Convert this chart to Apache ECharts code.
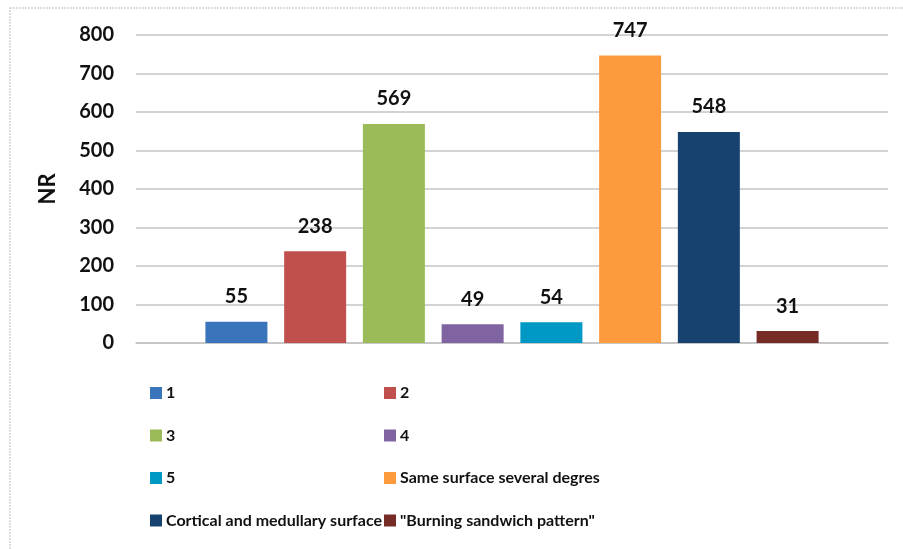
<!DOCTYPE html>
<html>
<head>
<meta charset="utf-8">
<script src="https://cdn.jsdelivr.net/npm/echarts@6/dist/echarts.min.js"></script>
<style>
  html, body { margin: 0; padding: 0; background: #fff; }
  #chart { width: 903px; height: 549px; }
</style>
</head>
<body>
<div id="chart"></div>
<script>
// Pattern types and their counts
const seriesNames = ['1', '2', '3', '4', '5', 'Same surface several degres', 'Cortical and medullary surface', '"Burning sandwich pattern"'];
const seriesValues = [55, 238, 569, 49, 54, 747, 548, 31];
const seriesColors = ['#3a75bb', '#c0504d', '#9bbb59', '#8064a2', '#0099c6', '#fd9a3e', '#17426f', '#772b26'];
const categories = ['NR'];
const yTicks = { min: 0, max: 800, interval: 100 };

const FONT = 'Lato, sans-serif';

const series = seriesNames.map((name, i) => ({
  name: name,
  type: 'bar',
  data: [seriesValues[i]],
  barWidth: 62,
  barGap: '27%',
  itemStyle: { color: seriesColors[i] },
  label: {
    show: true,
    position: 'top',
    distance: 15,
    color: '#111',
    fontFamily: FONT,
    fontWeight: 'bold',
    fontSize: 20
  }
}));

const legendCommon = {
  orient: 'vertical',
  icon: 'rect',
  itemWidth: 12,
  itemHeight: 12,
  itemGap: 22.5,
  padding: 0,
  textStyle: { color: '#111', fontFamily: FONT, fontWeight: 'bold', fontSize: 16, lineHeight: 20, padding: [0, 0, 0, -1] }
};

const chart = echarts.init(document.getElementById('chart'), null, { renderer: 'canvas' });
chart.setOption({
  animation: false,
  backgroundColor: '#fff',
  graphic: [{
    type: 'rect',
    shape: { x: 10, y: 8, width: 1000, height: 1000 },
    style: { fill: 'none', stroke: '#d4d4d4', lineWidth: 1.5, lineDash: [2, 1] },
    silent: true
  }],
  grid: { left: 136, right: 15, top: 35, height: 308, containLabel: false },
  xAxis: {
    type: 'category',
    data: categories,
    axisLine: { show: true, lineStyle: { color: '#c4c4c4', width: 1.5 } },
    axisTick: { show: false },
    axisLabel: { show: false }
  },
  yAxis: {
    type: 'value',
    min: yTicks.min,
    max: yTicks.max,
    interval: yTicks.interval,
    name: 'NR',
    nameLocation: 'middle',
    nameGap: 77,
    nameRotate: 90,
    nameTextStyle: { color: '#111', fontFamily: FONT, fontWeight: 'bold', fontSize: 22 },
    axisLine: { show: false },
    axisTick: { show: false },
    axisLabel: { color: '#111', fontFamily: FONT, fontWeight: 'bold', fontSize: 20, margin: 22 },
    splitLine: { lineStyle: { color: '#c4c4c4', width: 1.5 } }
  },
  legend: [
    Object.assign({ left: 150, top: 383, data: [seriesNames[0], seriesNames[2], seriesNames[4], seriesNames[6]] }, legendCommon),
    Object.assign({ left: 384, top: 383, data: [seriesNames[1], seriesNames[3], seriesNames[5], seriesNames[7]] }, legendCommon)
  ],
  series: series
});
</script>
</body>
</html>
